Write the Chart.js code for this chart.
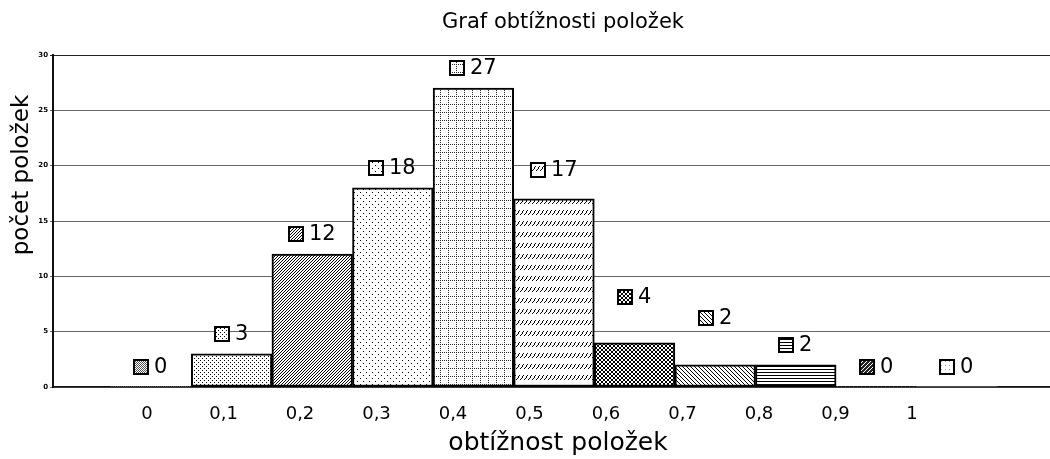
<!DOCTYPE html>
<html><head><meta charset="utf-8">
<script src="https://cdn.jsdelivr.net/npm/chart.js@4.4.1/dist/chart.umd.min.js"></script>
<style>html,body{margin:0;padding:0;background:#fff;}</style>
</head><body>
<canvas id="c" width="1050" height="459"></canvas>
<script>
// ---- data ----
const binValues  = [0, 0.1, 0.2, 0.3, 0.4, 0.5, 0.6, 0.7, 0.8, 0.9, 1];
const counts     = [0, 3, 12, 18, 27, 17, 4, 2, 2, 0, 0];
const tickLabels = ['0', '0,1', '0,2', '0,3', '0,4', '0,5', '0,6', '0,7', '0,8', '0,9', '1'];
const yTicks     = [0, 5, 10, 15, 20, 25, 30];
const titleText  = 'Graf obtížnosti položek';
const xTitleText = 'obtížnost položek';
const yTitleText = 'počet položek';
const patternNames = ['gray', 'dots', 'fdiag', 'sparseDots', 'dotGrid', 'dashRows', 'crossDense', 'bdiag', 'hlines', 'darkDiag', 'light'];

const FONT = "'DejaVu Sans', sans-serif";
const canvas = document.getElementById('c');
const ctx0 = canvas.getContext('2d');

function tile(w, h, bg, fg, pts) {
  const c = document.createElement('canvas');
  c.width = w; c.height = h;
  const g = c.getContext('2d');
  g.fillStyle = bg; g.fillRect(0, 0, w, h);
  g.fillStyle = fg;
  pts.forEach(p => g.fillRect(p[0], p[1], 1, 1));
  return ctx0.createPattern(c, 'repeat');
}
function makePattern(name) {
  switch (name) {
    case 'gray': return tile(2, 2, '#fff', '#555', [[0,0],[1,1]]);
    case 'dots': return tile(4, 4, '#fff', '#000', [[0,0],[2,2]]);
    case 'fdiag': return tile(3, 3, '#fff', '#000', [[2,0],[1,1],[0,2]]);
    case 'sparseDots': return tile(6, 6, '#fff', '#000', [[0,0],[3,3]]);
    case 'dotGrid': {
      const p = [];
      for (let i = 0; i < 8; i += 2) { p.push([i, 0]); p.push([0, i]); }
      return tile(8, 8, '#fff', '#222', p);
    }
    case 'dashRows': return tile(4, 11, '#fff', '#000', [[3,1],[2,2],[2,3],[1,4],[0,5]]);
    case 'crossDense': return tile(4, 4, '#fff', '#000', [[0,0],[1,1],[2,2],[3,3],[3,0],[2,1],[1,2],[0,3]]);
    case 'bdiag': return tile(4, 4, '#fff', '#000', [[0,0],[1,1],[2,2],[3,3]]);
    case 'hlines': return tile(4, 3, '#fff', '#000', [[0,0],[1,0],[2,0],[3,0]]);
    case 'darkDiag': return tile(4, 4, '#222', '#fff', [[3,0],[2,1],[1,2],[0,3]]);
    case 'light': return tile(4, 4, '#fff', '#999', [[1,1]]);
  }
  return '#fff';
}
const patterns = patternNames.map(makePattern);

const textPlugin = {
  id: 'texts',
  afterDraw(chart) {
    const c = chart.ctx;
    c.save();
    c.fillStyle = '#000';
    c.textAlign = 'center';
    c.textBaseline = 'middle';
    c.font = '21px ' + FONT;
    c.fillText(titleText, 563, 23);
    c.font = '25px ' + FONT;
    c.fillText(xTitleText, 558, 443);
    c.translate(22, 175);
    c.rotate(-Math.PI / 2);
    c.font = '23px ' + FONT;
    c.fillText(yTitleText, 0, 0);
    c.restore();
  }
};

const valueLabelPlugin = {
  id: 'valueLabels',
  afterDatasetsDraw(chart, args, opts) {
    const c = chart.ctx;
    const meta = chart.getDatasetMeta(0);
    const lift = opts.lift || [];
    c.save();
    c.font = '21px ' + FONT;
    c.textBaseline = 'middle';
    c.textAlign = 'left';
    meta.data.forEach((el, i) => {
      const txt = String(counts[i]);
      const tw = c.measureText(txt).width;
      const icon = 14, gap = 6;
      const total = icon + gap + tw;
      const x0 = Math.round(el.x - total / 2);
      const cy = Math.round(el.y - 20 - (lift[i] || 0));
      c.fillStyle = '#fff';
      c.fillRect(x0, cy - icon / 2, icon, icon);
      c.fillStyle = patterns[i];
      c.fillRect(x0, cy - icon / 2, icon, icon);
      c.lineWidth = 2;
      c.strokeStyle = '#000';
      c.strokeRect(x0, cy - icon / 2, icon, icon);
      c.fillStyle = '#000';
      c.fillText(txt, x0 + icon + gap, cy + 1);
    });
    c.restore();
  }
};

new Chart(canvas, {
  type: 'bar',
  data: {
    datasets: [{
      data: binValues.map((v, i) => ({ x: v, y: counts[i] })),
      backgroundColor: c => patterns[c.dataIndex],
      borderColor: '#000',
      borderWidth: c => (counts[c.dataIndex] > 0 ? 2 : 0),
      borderSkipped: false,
      barPercentage: 1,
      categoryPercentage: 1,
      xAxisID: 'x',
      yAxisID: 'y'
    }]
  },
  plugins: [textPlugin, valueLabelPlugin],
  options: {
    responsive: false,
    devicePixelRatio: 1,
    animation: false,
    layout: { padding: { top: 55, right: 0, left: 0, bottom: 0 } },
    plugins: {
      legend: { display: false },
      title: { display: false },
      tooltip: { enabled: false },
      valueLabels: { lift: [0, 0, 0, 0, 0, 9, 26, 27, 0, 0, 0] }
    },
    scales: {
      x: {
        type: 'linear', display: false,
        min: -0.1216, max: 1.1154, offset: false
      },
      xl: {
        type: 'linear', position: 'bottom', offset: false,
        min: -0.1229, max: 1.1804,
        afterBuildTicks: s => { s.ticks = binValues.map(v => ({ value: v })); },
        ticks: {
          callback: (v, i) => tickLabels[i],
          font: { size: 18, family: FONT }, color: '#000',
          padding: 17, maxRotation: 0, autoSkip: false
        },
        grid: { display: false, drawTicks: false, offset: false },
        border: { display: true, color: '#111', width: 1.5 },
        afterFit: s => { s.height = 72; }
      },
      y: {
        min: 0, max: 30,
        afterBuildTicks: s => { s.ticks = yTicks.map(v => ({ value: v })); },
        ticks: { font: { size: 7, weight: 'bold', family: FONT }, color: '#000', padding: 2 },
        grid: {
          color: c => (c.tick && c.tick.value === 30 ? '#222' : '#666'),
          lineWidth: 1, tickLength: 3, drawTicks: true
        },
        border: { color: '#111', width: 2 },
        afterFit: s => { s.width = 53; }
      }
    }
  }
});
</script>
</body></html>
